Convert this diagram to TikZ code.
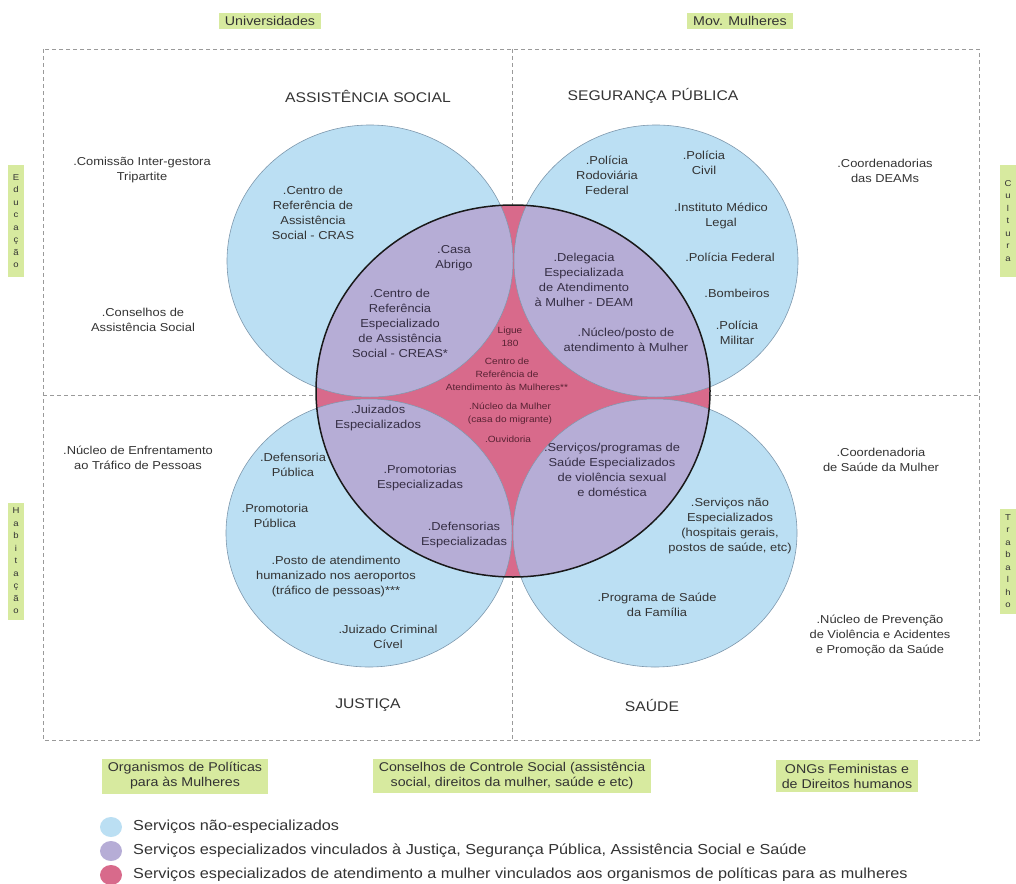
\documentclass[tikz,border=0pt]{standalone}
\usepackage{fontspec}
\setmainfont{Liberation Sans}[FakeStretch=1.12]
\definecolor{bluefill}{HTML}{BBDFF3}
\definecolor{blueline}{HTML}{7E98AD}
\definecolor{purplefill}{HTML}{B6ADD6}
\definecolor{pinkfill}{HTML}{D86A8B}
\definecolor{boxgreen}{HTML}{D7EA9F}
\definecolor{txtgray}{HTML}{333333}
\definecolor{purpletxt}{HTML}{352E44}
\definecolor{pinktxt}{HTML}{582233}
\definecolor{dashgray}{HTML}{9A9A9A}
\tikzset{
  txt/.style={align=center, text=txtgray, font=\fontsize{11.5}{15}\selectfont, inner sep=0pt},
  ptxt/.style={txt, text=purpletxt},
  pk/.style={align=center, text=pinktxt, font=\fontsize{9}{13}\selectfont, inner sep=0pt},
  hdr/.style={text=txtgray, font=\fontsize{14}{16}\selectfont, inner sep=0pt},
  gbox/.style={fill=boxgreen, align=center, text=txtgray, font=\fontsize{12.7}{15}\selectfont, inner xsep=6pt, inner ysep=4pt},
  vbox/.style={fill=boxgreen, align=center, text=txtgray, font=\fontsize{8.5}{12.5}\selectfont, minimum width=16pt, inner xsep=1pt, inner ysep=4pt},
  leg/.style={anchor=west, text=txtgray, font=\fontsize{14.5}{16}\selectfont, inner sep=0pt},
  dashln/.style={draw=dashgray, line width=0.7pt, dash pattern=on 4pt off 3pt},
  bluec/.style={fill=bluefill, draw=blueline, line width=0.6pt},
}
\begin{document}
\begin{tikzpicture}[x=1pt,y=-1pt]
\useasboundingbox (0,0) rectangle (1016,883);
% frame
\draw[dashln] (43,49) rectangle (979,740);
\draw[dashln] (512,49) -- (512,740);
\draw[dashln] (43,395) -- (979,395);
% blue circles
\def\TL{(370,261) ellipse [x radius=143pt, y radius=136pt]}
\def\TR{(656,261) ellipse [x radius=142pt, y radius=136pt]}
\def\BL{(369,533) ellipse [x radius=143pt, y radius=134pt]}
\def\BR{(655,533) ellipse [x radius=142pt, y radius=134pt]}
\def\BIG{(513,391) ellipse [x radius=197pt, y radius=186pt]}
\path[bluec] \TL; \path[bluec] \TR; \path[bluec] \BL; \path[bluec] \BR;
% central circle
\fill[pinkfill] \BIG;
\begin{scope}
  \clip \BIG;
  \fill[purplefill] \TL; \fill[purplefill] \TR; \fill[purplefill] \BL; \fill[purplefill] \BR;
  \draw[blueline, line width=0.5pt] \TL; \draw[blueline, line width=0.5pt] \TR;
  \draw[blueline, line width=0.5pt] \BL; \draw[blueline, line width=0.5pt] \BR;
\end{scope}
\draw[black!90, line width=1.5pt] \BIG;
% top labels
\node[gbox, inner ysep=3pt] (univ) at (270,21) {Universidades};
\node[gbox, inner ysep=3pt] (movm) at (740,21) {Mov. Mulheres};
\node[hdr] (assist) at (368,96) {ASSISTÊNCIA SOCIAL};
\node[hdr] (segur) at (653,96) {SEGURANÇA PÚBLICA};
\node[hdr] (just) at (368,705) {JUSTIÇA};
\node[hdr] (saude) at (652,705) {SAÚDE};
% side labels
\node[vbox, minimum height=112pt] (educ) at (16,221) {E\\d\\u\\c\\a\\ç\\ã\\o};
\node[vbox, minimum height=112pt] (cult) at (1008,221) {C\\u\\l\\t\\u\\r\\a};
\node[vbox, minimum height=117pt] (habit) at (16,561) {H\\a\\b\\i\\t\\a\\ç\\ã\\o};
\node[vbox, minimum height=105pt] (trab) at (1008,561) {T\\r\\a\\b\\a\\l\\h\\o};
% top-left quadrant
\node[txt] (cit) at (142,170) {.Comissão Inter-gestora\\Tripartite};
\node[txt] (cas) at (143,320) {.Conselhos de\\Assistência Social};
\node[txt] (cras) at (313,213) {.Centro de\\Referência de\\Assistência\\Social - CRAS};
\node[ptxt] (abrigo) at (454,258) {.Casa\\Abrigo};
\node[ptxt] (creas) at (400,323) {.Centro de\\Referência\\Especializado\\de Assistência\\Social - CREAS*};
% top-right quadrant
\node[txt] (prf) at (607,175) {.Polícia\\Rodoviária\\Federal};
\node[txt] (pc) at (704,163) {.Polícia\\Civil};
\node[txt] (iml) at (721,216) {.Instituto Médico\\Legal};
\node[txt] (pf) at (730,257) {.Polícia Federal};
\node[txt] (bomb) at (737,293) {.Bombeiros};
\node[txt] (pm) at (737,333) {.Polícia\\Militar};
\node[ptxt] (deam) at (584,280) {.Delegacia\\Especializada\\de Atendimento\\à Mulher - DEAM};
\node[ptxt] (nucp) at (626,340) {.Núcleo/posto de\\atendimento à Mulher};
\node[txt] (coord) at (885,171) {.Coordenadorias\\das DEAMs};
% centre
\node[pk] (ligue) at (510,337) {Ligue\\180};
\node[pk] (cram) at (507,374) {Centro de\\Referência de\\Atendimento às Mulheres**};
\node[pk] (nucm) at (510,414) {.Núcleo da Mulher\\(casa do migrante)};
\node[pk] (ouv) at (508,439) {.Ouvidoria};
% bottom-left quadrant
\node[ptxt] (juiz) at (378,418) {.Juizados\\Especializados};
\node[txt] (netp) at (138,458) {.Núcleo de Enfrentamento\\ao Tráfico de Pessoas};
\node[txt] (defp) at (293,465) {.Defensoria\\Pública};
\node[ptxt] (prome) at (420,478) {.Promotorias\\Especializadas};
\node[txt] (promp) at (275,516) {.Promotoria\\Pública};
\node[ptxt] (defe) at (464,535) {.Defensorias\\Especializadas};
\node[txt] (posto) at (336,577) {.Posto de atendimento\\humanizado nos aeroportos\\(tráfico de pessoas)***};
\node[txt] (jcc) at (388,637) {.Juizado Criminal\\Cível};
% bottom-right quadrant
\node[ptxt] (sps) at (612,470) {.Serviços/programas de\\Saúde Especializados\\de violência sexual\\e doméstica};
\node[txt] (sne) at (730,526) {.Serviços não\\Especializados\\(hospitais gerais,\\postos de saúde, etc)};
\node[txt] (psf) at (657,605) {.Programa de Saúde\\da Família};
\node[txt] (csm) at (881,460) {.Coordenadoria\\de Saúde da Mulher};
\node[txt] (npv) at (880,635) {.Núcleo de Prevenção\\de Violência e Acidentes\\e Promoção da Saúde};
% bottom boxes
\node[gbox] (orgp) at (185,776) {Organismos de Políticas\\para às Mulheres};
\node[gbox] (ccs) at (512,776) {Conselhos de Controle Social (assistência\\social, direitos da mulher, saúde e etc)};
\node[gbox] (ongs) at (847,776) {ONGs Feministas e\\de Direitos humanos};
% legend
\fill[bluefill] (111,827) ellipse [x radius=11pt, y radius=10pt];
\fill[purplefill] (111,851) ellipse [x radius=11pt, y radius=10pt];
\fill[pinkfill] (111,875) ellipse [x radius=11pt, y radius=10pt];
\node[leg] (lg1) at (133,827) {Serviços não-especializados};
\node[leg] (lg2) at (133,851) {Serviços especializados vinculados à Justiça, Segurança Pública, Assistência Social e Saúde};
\node[leg] (lg3) at (133,875) {Serviços especializados de atendimento a mulher vinculados aos organismos de políticas para as mulheres};
\end{tikzpicture}
\end{document}
